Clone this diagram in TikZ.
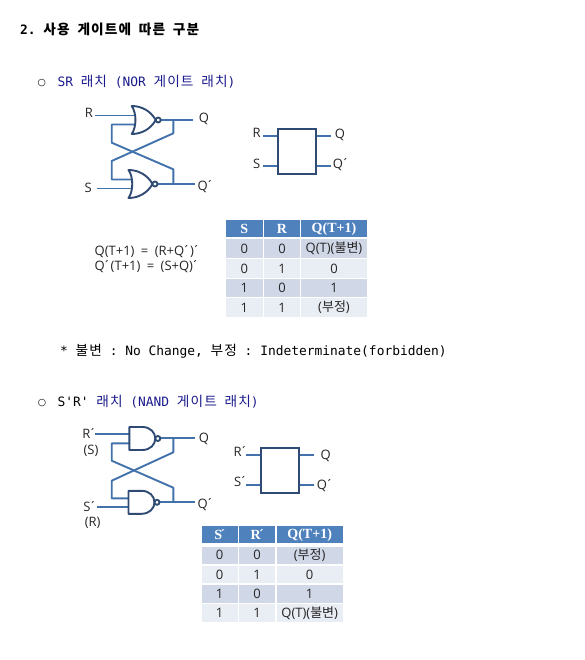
\documentclass[tikz,border=0pt]{standalone}
\usepackage{fontspec}
\setmainfont{Open Sans}
\setmonofont{DejaVu Sans Mono}
\newfontfamily\krfont{Noto Sans CJK KR}
\newfontfamily\krmono[Scale=1.06,LetterSpace=8]{Noto Sans CJK KR}
\newfontfamily\dejafont{DejaVu Sans}
\newfontfamily\headfont{Liberation Serif}
\usetikzlibrary{arrows.meta,calc,positioning}
\newcommand{\acu}{\kern-1.6pt´}
\definecolor{wireblue}{HTML}{4272AB}
\definecolor{gatedark}{HTML}{2F4A73}
\definecolor{headblue}{HTML}{4F81BD}
\definecolor{rowdark}{HTML}{D0D8E8}
\definecolor{rowlight}{HTML}{E9EDF4}
\definecolor{headnavy}{HTML}{1A1A8C}
\tikzset{
  wire/.style={draw=wireblue,line width=1.9pt,line join=round},
  gateline/.style={draw=gatedark,line width=1.9pt,fill=white,line join=round},
  blockbox/.style={draw=gatedark,line width=1.9pt,fill=white,inner sep=0pt},
  lbl/.style={inner sep=0pt,text=black!85,font=\fontsize{13}{14}\selectfont},
  hcell/.style={fill=headblue,text=white,inner sep=0pt,font=\headfont\fontsize{14}{15}\selectfont\bfseries},
  bcell/.style={inner sep=0pt,text=black!85,font=\fontsize{13}{14}\selectfont},
  headtxt/.style={anchor=base west,inner sep=0pt,font=\ttfamily\fontsize{12.9}{15}\selectfont},
  bullet/.style={inner sep=0pt,font=\dejafont\bfseries\fontsize{9.5}{10}\selectfont},
  norgate/.pic={
    \draw[gateline] (0,-14) .. controls (10,-14) and (19,-9) .. (24,0)
      .. controls (19,9) and (10,14) .. (0,14)
      .. controls (5,7) and (5,-7) .. (0,-14) -- cycle;
    \draw[gateline] (26.5,0) circle (2.5);
    \coordinate (-in1) at (3,-4.5);
    \coordinate (-in2) at (3,4.5);
    \coordinate (-out) at (29,0);
  },
  nandgate/.pic={
    \draw[gateline] (0,-11.5) -- (13,-11.5) .. controls (21,-11.5) and (26,-6) .. (26,0)
      .. controls (26,6) and (21,11.5) .. (13,11.5) -- (0,11.5) -- cycle;
    \draw[gateline] (28.5,0) circle (2.5);
    \coordinate (-in1) at (0,-4.5);
    \coordinate (-in2) at (0,4.5);
    \coordinate (-out) at (31,0);
  }
}
\begin{document}
\begin{tikzpicture}[x=1pt,y=-1pt]
  \useasboundingbox (0,0) rectangle (585,660);
  % headings
  \node[headtxt] (title) at (20,34.5) {\bfseries 2. {\krmono 사용} {\krmono 게이트에} {\krmono 따른} {\krmono 구분}};
  \node[bullet] (bulA) at (41.7,82.7) {○};
  \node[headtxt,text=headnavy] (headA) at (57.3,86.7) {SR {\krmono 래치} (NOR {\krmono 게이트} {\krmono 래치})};
  \node[headtxt] (note) at (60,355) {* {\krmono 불변} : No Change, {\krmono 부정} : Indeterminate(forbidden)};
  \node[bullet] (bulB) at (42,402.7) {○};
  \node[headtxt] (headB) at (57.3,406.7) {S'R' \textcolor{headnavy}{{\krmono 래치} (NAND {\krmono 게이트} {\krmono 래치})}};

  % NOR latch
  \coordinate (joinQ) at (173.3,120);
  \coordinate (joinP) at (173.3,184);
  \draw[wire] (95,115.5) coordinate (inR) -- (135,115.5);
  \draw[wire] (96.7,188.5) coordinate (inS) -- (132,188.5);
  \draw[wire] (135,124.5) -- (111.7,124.5) -- (111.7,142.7) -- (173.3,169.3) -- (joinP);
  \draw[wire] (joinQ) -- (173.3,133.3) -- (111.7,161) -- (111.7,179.5) -- (132,179.5);
  \coordinate (endQ) at (193,120);
  \coordinate (endP) at (195,184);
  \draw[wire] (155,120) -- (endQ);
  \draw[wire] (153,184) -- (endP);
  \pic (norA) at (131.7,120) {norgate};
  \pic (norB) at (128.5,184) {norgate};
  \node[lbl] (lR) at (89,113) {R};
  \node[lbl] (lS) at (88.3,187.7) {S};
  \node[lbl] (lQ) at (204,119.3) {Q};
  \node[lbl] (lP) at (205.7,186.7) {Q\acu};

  % NOR block
  \node[blockbox,minimum width=38.3,minimum height=45.3] (boxA) at (296.9,151.4) {};
  \coordinate (bR) at (263,135.7);
  \coordinate (bS) at (263,166);
  \coordinate (bQ) at (330.7,135.7);
  \coordinate (bP) at (330.7,166);
  \draw[wire] (bR) -- (bR -| boxA.west);
  \draw[wire] (bS) -- (bS -| boxA.west);
  \draw[wire] (bQ) -- (bQ -| boxA.east);
  \draw[wire] (bP) -- (bP -| boxA.east);
  \node[lbl] (tR) at (256.7,133) {R};
  \node[lbl] (tS) at (256.7,164) {S};
  \node[lbl] (tQ) at (340,135) {Q};
  \node[lbl] (tP) at (341,165) {Q\acu};

  % equations
  \node[lbl,anchor=west] (eqA) at (94.5,252) {Q(T+1)\hspace{3pt} = \hspace{3pt}(R+Q\acu)\acu};
  \node[lbl,anchor=west] (eqB) at (94.5,267) {Q\acu(T+1)\hspace{3pt} = \hspace{3pt}(S+Q)\acu};

  % first table
  \foreach \nm/\cx/\cw/\txt in {a/244.3/36.7/S,b/282/36/R,c/334/66/Q(T+1)}
    {
      \node[hcell,minimum width=\cw,minimum height=17.3] (t1\nm) at (\cx,228.7) {\txt};
    }
  \foreach \n/\ry/\rh/\rc/\a/\b/\c in {1/248.6/18.7/rowdark/0/0/Q(T)({\krfont 불변}),2/268.5/18.4/rowlight/0/1/0,3/288.2/18.3/rowdark/1/0/1,4/307.5/18.4/rowlight/1/1/({\krfont 부정})}
    {
      \node[bcell,fill=\rc,minimum width=36.7,minimum height=\rh] (t1a\n) at (244.3,\ry) {\a};
      \node[bcell,fill=\rc,minimum width=36,minimum height=\rh] (t1b\n) at (282,\ry) {\b};
      \node[bcell,fill=\rc,minimum width=66,minimum height=\rh] (t1c\n) at (334,\ry) {\c};
    }

  % NAND latch
  \coordinate (joinR) at (173.3,438.3);
  \coordinate (joinT) at (173.3,502.3);
  \draw[wire] (95,434) coordinate (inRb) -- (129.3,434);
  \draw[wire] (96.7,507.3) coordinate (inSb) -- (128.5,507.3);
  \draw[wire] (129.3,443.3) -- (111.7,443.3) -- (111.7,460.7) -- (173.3,487.7) -- (joinT);
  \draw[wire] (joinR) -- (173.3,452.3) -- (111.7,480.7) -- (111.7,498.3) -- (128.5,498.3);
  \coordinate (endR) at (195,438.3);
  \coordinate (endT) at (195,502.3);
  \draw[wire] (155,438.3) -- (endR);
  \draw[wire] (155,502.3) -- (endT);
  \pic (nandA) at (129.3,438.5) {nandgate};
  \pic (nandB) at (128.5,502.3) {nandgate};
  \node[lbl] (lRb) at (89.3,433.3) {R\acu};
  \node[lbl] (lSx) at (91,450.7) {(S)};
  \node[lbl] (lSb) at (90,506.7) {S\acu};
  \node[lbl] (lRx) at (92.7,523.3) {(R)};
  \node[lbl] (lQb) at (204,439) {Q};
  \node[lbl] (lPb) at (205.7,505) {Q\acu};

  % NAND block
  \node[blockbox,minimum width=38.6,minimum height=45.3] (boxB) at (280,470.4) {};
  \coordinate (cR) at (246,455);
  \coordinate (cS) at (246,485);
  \coordinate (cQ) at (314,455);
  \coordinate (cP) at (314,485);
  \draw[wire] (cR) -- (cR -| boxB.west);
  \draw[wire] (cS) -- (cS -| boxB.west);
  \draw[wire] (cQ) -- (cQ -| boxB.east);
  \draw[wire] (cP) -- (cP -| boxB.east);
  \node[lbl] (uR) at (240.7,452) {R\acu};
  \node[lbl] (uS) at (240.7,482) {S\acu};
  \node[lbl] (uQ) at (325.7,455.7) {Q};
  \node[lbl] (uP) at (325,485.7) {Q\acu};

  % second table
  \foreach \nm/\cx/\cw/\txt in {a/219.7/36/S\acu,b/257.2/36.3/R\acu,c/309.7/66/Q(T+1)}
    {
      \node[hcell,minimum width=\cw,minimum height=17.3] (t2\nm) at (\cx,534.7) {\txt};
    }
  \foreach \n/\ry/\rh/\rc/\a/\b/\c in {1/555.3/17.6/rowdark/0/0/({\krfont 부정}),2/574.5/17.6/rowlight/0/1/0,3/593.8/17.7/rowdark/1/0/1,4/613.2/18.3/rowlight/1/1/Q(T)({\krfont 불변})}
    {
      \node[bcell,fill=\rc,minimum width=36,minimum height=\rh] (t2a\n) at (219.7,\ry) {\a};
      \node[bcell,fill=\rc,minimum width=36.3,minimum height=\rh] (t2b\n) at (257.2,\ry) {\b};
      \node[bcell,fill=\rc,minimum width=66,minimum height=\rh] (t2c\n) at (309.7,\ry) {\c};
    }
\end{tikzpicture}
\end{document}
